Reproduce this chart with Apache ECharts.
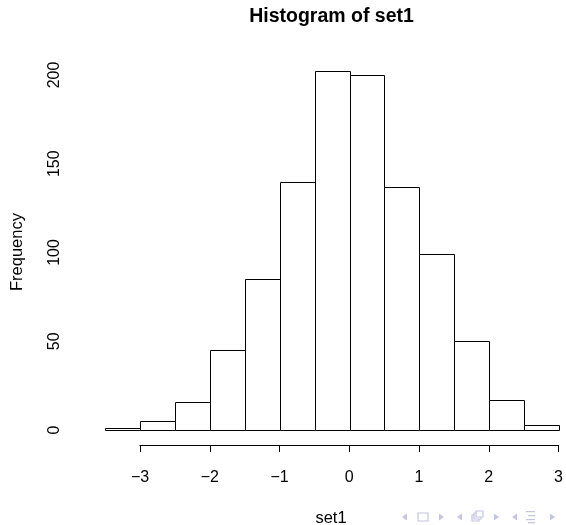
<!DOCTYPE html>
<html>
<head>
<meta charset="utf-8">
<script src="https://cdn.jsdelivr.net/npm/echarts@6/dist/echarts.min.js"></script>
<style>
html,body{margin:0;padding:0;background:#fff;}
#chart{width:566px;height:525px;}
</style>
</head>
<body>
<div id="chart"></div>
<script>
var breaks = [-3.5, -3, -2.5, -2, -1.5, -1, -0.5, 0, 0.5, 1, 1.5, 2, 2.5, 3];
var counts = [1, 5, 16, 45, 85, 140, 202, 200, 137, 99, 50, 17, 3];
var xTicks = [-3, -2, -1, 0, 1, 2, 3];
var yTicks = [0, 50, 100, 150, 200];

var FONT = '"Liberation Sans", Arial, Helvetica, sans-serif';
var bins = counts.map(function (c, i) { return [breaks[i], breaks[i + 1], c]; });

var chart = echarts.init(document.getElementById('chart'), null, {renderer: 'canvas'});
var nav = '#c4c4e4';
function tri(x, y, dir) {
  var w = 5, h = 7;
  var pts = dir < 0 ? [[x + w, y - h / 2], [x, y], [x + w, y + h / 2]] : [[x, y - h / 2], [x + w, y], [x, y + h / 2]];
  return {type: 'polygon', shape: {points: pts}, style: {fill: nav}};
}
var graphics = [
  tri(402, 517, -1),
  {type: 'rect', shape: {x: 418, y: 513, width: 10, height: 8}, style: {fill: 'none', stroke: nav, lineWidth: 1.2}},
  tri(439, 517, 1),
  tri(457, 517, -1),
  {type: 'rect', shape: {x: 472, y: 515, width: 7, height: 6}, style: {fill: '#fff', stroke: nav, lineWidth: 1.2}},
  {type: 'rect', shape: {x: 474, y: 513, width: 7, height: 6}, style: {fill: '#fff', stroke: nav, lineWidth: 1.2}},
  {type: 'rect', shape: {x: 476, y: 511, width: 7, height: 6}, style: {fill: '#fff', stroke: nav, lineWidth: 1.2}},
  tri(494, 517, 1),
  tri(512, 517, -1),
  {type: 'rect', shape: {x: 526, y: 511, width: 9, height: 1.2}, style: {fill: nav}},
  {type: 'rect', shape: {x: 528, y: 515, width: 7, height: 1.2}, style: {fill: nav}},
  {type: 'rect', shape: {x: 526, y: 519, width: 9, height: 1.2}, style: {fill: nav}},
  {type: 'rect', shape: {x: 528, y: 522, width: 7, height: 1.2}, style: {fill: nav}},
  tri(550, 517, 1)
];

chart.setOption({
  animation: false,
  backgroundColor: '#fff',
  graphic: [
    {type: 'text', x: 331.5, y: 17,
     style: {text: 'Histogram of set1', font: 'bold 19.5px ' + FONT, fill: '#000', textAlign: 'center', textVerticalAlign: 'middle'}},
    {type: 'text', x: 331, y: 518,
     style: {text: 'set1', font: '16.5px ' + FONT, fill: '#000', textAlign: 'center', textVerticalAlign: 'middle'}},
    {type: 'text', x: 17, y: 252, rotation: Math.PI / 2,
     style: {text: 'Frequency', font: '16.5px ' + FONT, fill: '#000', textAlign: 'center', textVerticalAlign: 'middle'}}
  ].concat(graphics),
  grid: [
    {left: 87, right: 7, top: 75, height: 355},
    {left: 140, right: 7, top: 444, height: 1}
  ],
  xAxis: [
    {gridIndex: 0, type: 'value', min: -3.76, max: 3, show: false},
    {gridIndex: 1, type: 'value', min: -3, max: 3, interval: 1, position: 'bottom',
     axisLine: {show: true, onZero: false, lineStyle: {color: '#000', width: 1}},
     axisTick: {show: true, length: 7, lineStyle: {color: '#000'}},
     splitLine: {show: false},
     axisLabel: {margin: 33, verticalAlign: 'middle', fontFamily: FONT, fontSize: 16, color: '#000',
       formatter: function (v) { return v < 0 ? '\u2212' + Math.abs(v) : String(v); }}}
  ],
  yAxis: [
    {gridIndex: 0, type: 'value', min: 0, max: 200, interval: 50, position: 'left',
     axisLine: {show: true, lineStyle: {color: '#000', width: 1}},
     axisTick: {show: true, length: 7, lineStyle: {color: '#000'}},
     splitLine: {show: false},
     axisLabel: {rotate: 90, margin: 24, fontFamily: FONT, fontSize: 16, color: '#000'}},
    {gridIndex: 1, type: 'value', show: false}
  ],
  series: [{
    type: 'custom',
    xAxisIndex: 0, yAxisIndex: 0,
    clip: false,
    data: bins,
    renderItem: function (params, api) {
      var p0 = api.coord([api.value(0), 0]);
      var p1 = api.coord([api.value(1), api.value(2)]);
      return {
        type: 'rect',
        shape: {x: Math.round(p0[0]) + 0.5, y: Math.round(p1[1]) + 0.5,
                width: Math.round(p1[0]) - Math.round(p0[0]), height: Math.round(p0[1]) - Math.round(p1[1])},
        style: {fill: '#fff', stroke: '#000', lineWidth: 1}
      };
    }
  }]
});
</script>
</body>
</html>
